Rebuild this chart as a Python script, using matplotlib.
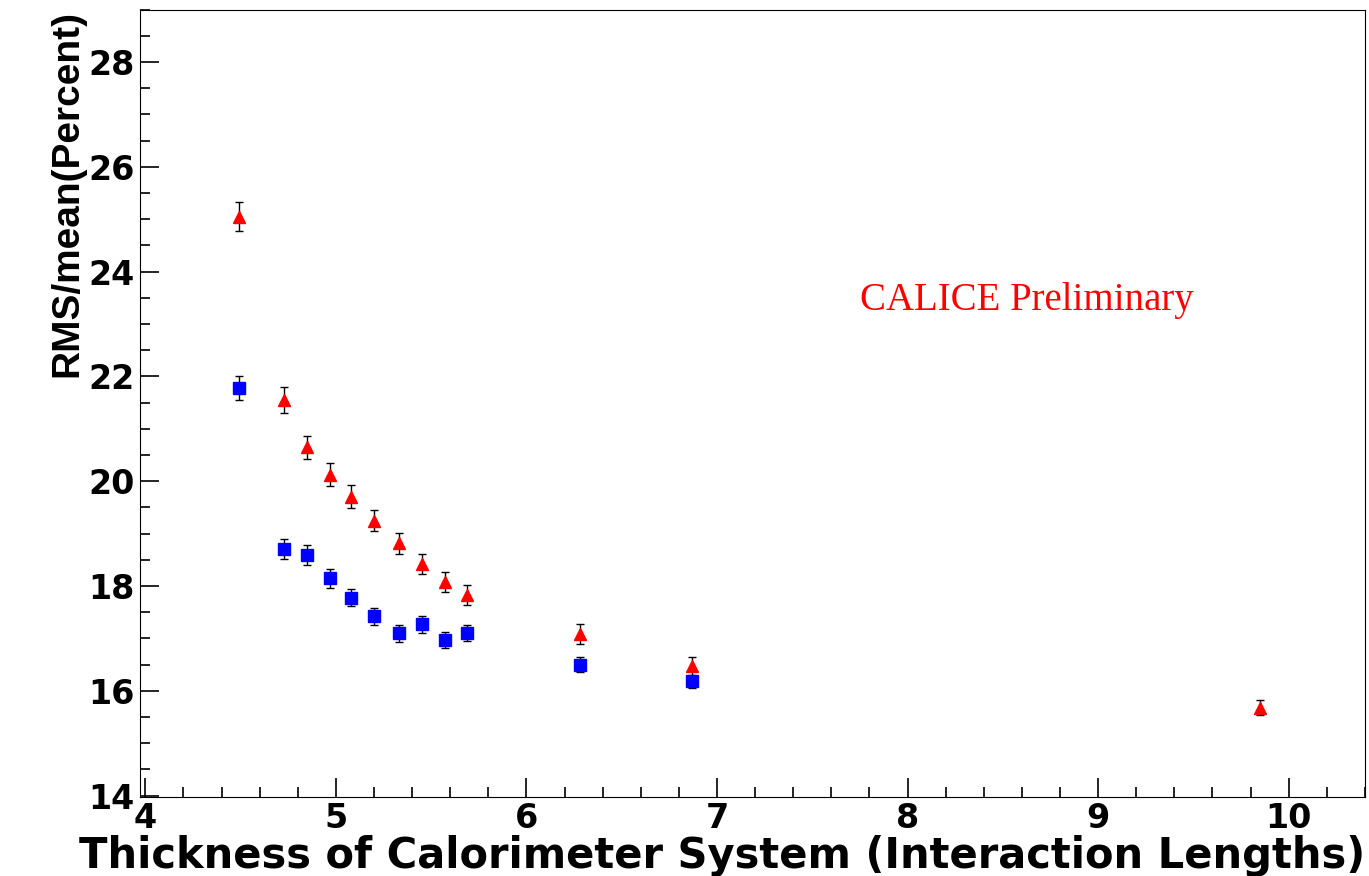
import matplotlib
matplotlib.use("Agg")
import matplotlib.pyplot as plt
from matplotlib.ticker import MultipleLocator

red_x = [4.49, 4.73, 4.85, 4.97, 5.08, 5.20, 5.33, 5.45, 5.57, 5.69, 6.28, 6.87, 9.85]
red_y = [25.05, 21.55, 20.65, 20.12, 19.70, 19.25, 18.82, 18.42, 18.08, 17.82, 17.08, 16.47, 15.68]
red_err = [0.27, 0.24, 0.22, 0.22, 0.22, 0.2, 0.2, 0.2, 0.19, 0.19, 0.19, 0.18, 0.15]
blue_x = [4.49, 4.73, 4.85, 4.97, 5.08, 5.20, 5.33, 5.45, 5.57, 5.69, 6.28, 6.87]
blue_y = [21.78, 18.70, 18.60, 18.15, 17.78, 17.42, 17.10, 17.27, 16.97, 17.10, 16.50, 16.18]
blue_err = [0.23, 0.19, 0.19, 0.18, 0.17, 0.16, 0.16, 0.16, 0.15, 0.15, 0.14, 0.13]

fig = plt.figure(figsize=(13.69, 8.76), dpi=100)
ax = fig.add_axes([0.102, 0.09, 0.895, 0.899])
ax.errorbar(red_x, red_y, yerr=red_err, fmt='^', color='red', ecolor='black',
            elinewidth=1, capsize=3, markersize=9, mec='red')
ax.errorbar(blue_x, blue_y, yerr=blue_err, fmt='s', color='blue', ecolor='black',
            elinewidth=1, capsize=3, markersize=9, mec='blue')
ax.set_xlim(3.97, 10.4)
ax.set_ylim(13.97, 29.0)
ax.xaxis.set_major_locator(MultipleLocator(1))
ax.xaxis.set_minor_locator(MultipleLocator(0.2))
ax.yaxis.set_major_locator(MultipleLocator(2))
ax.yaxis.set_minor_locator(MultipleLocator(0.5))
ax.tick_params(which='major', length=14, width=1.2, direction='in', labelsize=24)
ax.tick_params(which='minor', length=7, width=1.2, direction='in')
for lab in ax.get_xticklabels() + ax.get_yticklabels():
    lab.set_fontweight('bold')
ax.set_xlabel('Thickness of Calorimeter System (Interaction Lengths)', fontsize=30,
              fontweight='bold', loc='right', labelpad=0)
ax.set_ylabel('RMS/mean(Percent)', fontsize=28, fontweight='bold', loc='top', labelpad=2,
              fontstretch='condensed', family='Liberation Sans')
ax.text(7.75, 23.45, 'CALICE Preliminary', color='red', fontsize=28,
        family='Liberation Serif', ha='left', va='center')
fig.savefig('out.png', dpi=100)
